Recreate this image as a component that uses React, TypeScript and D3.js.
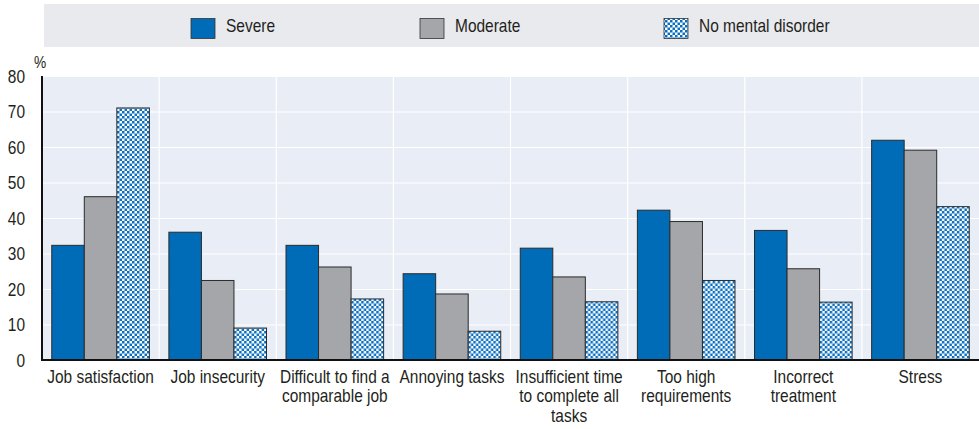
import { useEffect, useRef } from 'react';
import * as d3 from 'd3';

const W = 979;
const H = 429;

const CATEGORIES = [
  ['Job satisfaction'],
  ['Job insecurity'],
  ['Difficult to find a', 'comparable job'],
  ['Annoying tasks'],
  ['Insufficient time', 'to complete all', 'tasks'],
  ['Too high', 'requirements'],
  ['Incorrect', 'treatment'],
  ['Stress'],
];
const SERIES = ['Severe', 'Moderate', 'No mental disorder'];
const SEVERE = [32.3, 36, 32.3, 24.3, 31.5, 42.2, 36.5, 61.9];
const MODERATE = [46, 22.4, 26.2, 18.6, 23.4, 39, 25.7, 59.1];
const NO_DISORDER = [71, 9, 17.2, 8.1, 16.4, 22.4, 16.3, 43.2];
const Y_TICKS = [0, 10, 20, 30, 40, 50, 60, 70, 80];

const FONT = '"Liberation Sans", Arial, sans-serif';
const NARROW = 0.86; // emulate Arial Narrow
const COLORS = ['#006bb6', '#a5a6aa', 'url(#chk)'];

type Sel = d3.Selection<any, unknown, null, undefined>;

// condensed text: scale horizontally around the anchor point
function narrowText(parent: Sel, x: number, y: number, lines: string[], anchor = 'start', size = 18, lh = 19.5) {
  const t = parent.append('text')
    .attr('transform', `translate(${x},${y}) scale(${NARROW},1)`)
    .attr('text-anchor', anchor)
    .attr('font-family', FONT).attr('font-size', size).attr('fill', '#231f20');
  lines.forEach((l, i) => t.append('tspan').attr('x', 0).attr('y', i * lh).text(l));
  return t;
}

export default function App() {
  const svgRef = useRef<SVGSVGElement>(null);

  useEffect(() => {
    if (!svgRef.current) return;
    const svg = d3.select(svgRef.current);
    svg.selectAll('*').remove();

    const M = { top: 76, right: 0, bottom: 69, left: 42 };
    const iW = W - M.left - M.right;
    const iH = H - M.top - M.bottom;

    // checker pattern for "No mental disorder"
    const defs = svg.append('defs');
    const pat = defs.append('pattern').attr('id', 'chk')
      .attr('patternUnits', 'userSpaceOnUse').attr('width', 5).attr('height', 5);
    pat.append('rect').attr('width', 5).attr('height', 5).attr('fill', '#ffffff');
    pat.append('rect').attr('width', 2.5).attr('height', 2.5).attr('fill', '#0a6fc0');
    pat.append('rect').attr('x', 2.5).attr('y', 2.5).attr('width', 2.5).attr('height', 2.5).attr('fill', '#0a6fc0');

    // legend band
    svg.append('rect').attr('x', 44).attr('y', 4).attr('width', W - 44).attr('height', 43).attr('fill', '#e9eaee');
    const legX = [191, 420, 664];
    SERIES.forEach((s, i) => {
      svg.append('rect').attr('x', legX[i]).attr('y', 18.5).attr('width', 24).attr('height', 20)
        .attr('fill', COLORS[i]).attr('stroke', '#333').attr('stroke-width', 0.8);
      narrowText(svg, legX[i] + 35, 32, [s], 'start', 18);
    });

    const root = svg.append('g').attr('transform', `translate(${M.left},${M.top})`);

    const x0 = d3.scaleBand<number>().domain(d3.range(CATEGORIES.length)).range([0, iW]);
    const x1 = d3.scaleBand<number>().domain([0, 1, 2]).range([0, x0.bandwidth()]).paddingOuter(0.3);
    const y = d3.scaleLinear().domain([0, 80]).range([iH, 0]);

    root.append('rect').attr('width', iW).attr('height', iH).attr('fill', '#e8edf6');

    // grid
    root.append('g')
      .call(d3.axisLeft(y).tickValues(Y_TICKS.slice(1)).tickSize(-iW).tickFormat(() => ''))
      .call(g => g.select('.domain').remove())
      .call(g => g.selectAll('line').attr('stroke', '#ffffff').attr('stroke-width', 1.2));
    root.append('g').selectAll('line').data(d3.range(1, CATEGORIES.length)).join('line')
      .attr('x1', d => x0(d)!).attr('x2', d => x0(d)!).attr('y1', 0).attr('y2', iH)
      .attr('stroke', '#ffffff').attr('stroke-width', 1.2);

    const values = [SEVERE, MODERATE, NO_DISORDER];
    CATEGORIES.forEach((_, ci) => {
      const g = root.append('g').attr('transform', `translate(${x0(ci)},0)`);
      values.forEach((arr, si) => {
        g.append('rect')
          .attr('x', x1(si)!).attr('width', x1.bandwidth())
          .attr('y', y(arr[ci])).attr('height', iH - y(arr[ci]))
          .attr('fill', COLORS[si]).attr('stroke', '#2b2b2b').attr('stroke-width', 1);
      });
    });

    // y axis labels
    Y_TICKS.forEach(v => narrowText(root, -17, y(v) + 6.5, [String(v)], 'end', 18));
    narrowText(root, -8, -8, ['%'], 'start', 16);

    root.append('line').attr('x1', 0).attr('x2', 0).attr('y1', 0).attr('y2', iH + 1)
      .attr('stroke', '#111').attr('stroke-width', 2);
    root.append('line').attr('x1', -1).attr('x2', iW).attr('y1', iH).attr('y2', iH)
      .attr('stroke', '#111').attr('stroke-width', 2);

    // category labels
    CATEGORIES.forEach((lines, ci) => {
      narrowText(root, x0(ci)! + x0.bandwidth() / 2, iH + 23, lines, 'middle', 18, 19.5);
    });
  }, []);

  return (
    <div style={{ position: 'absolute', left: 0, top: 0 }}>
      <svg ref={svgRef} width={W} height={H} style={{ display: 'block', background: '#fff' }} />
    </div>
  );
}
